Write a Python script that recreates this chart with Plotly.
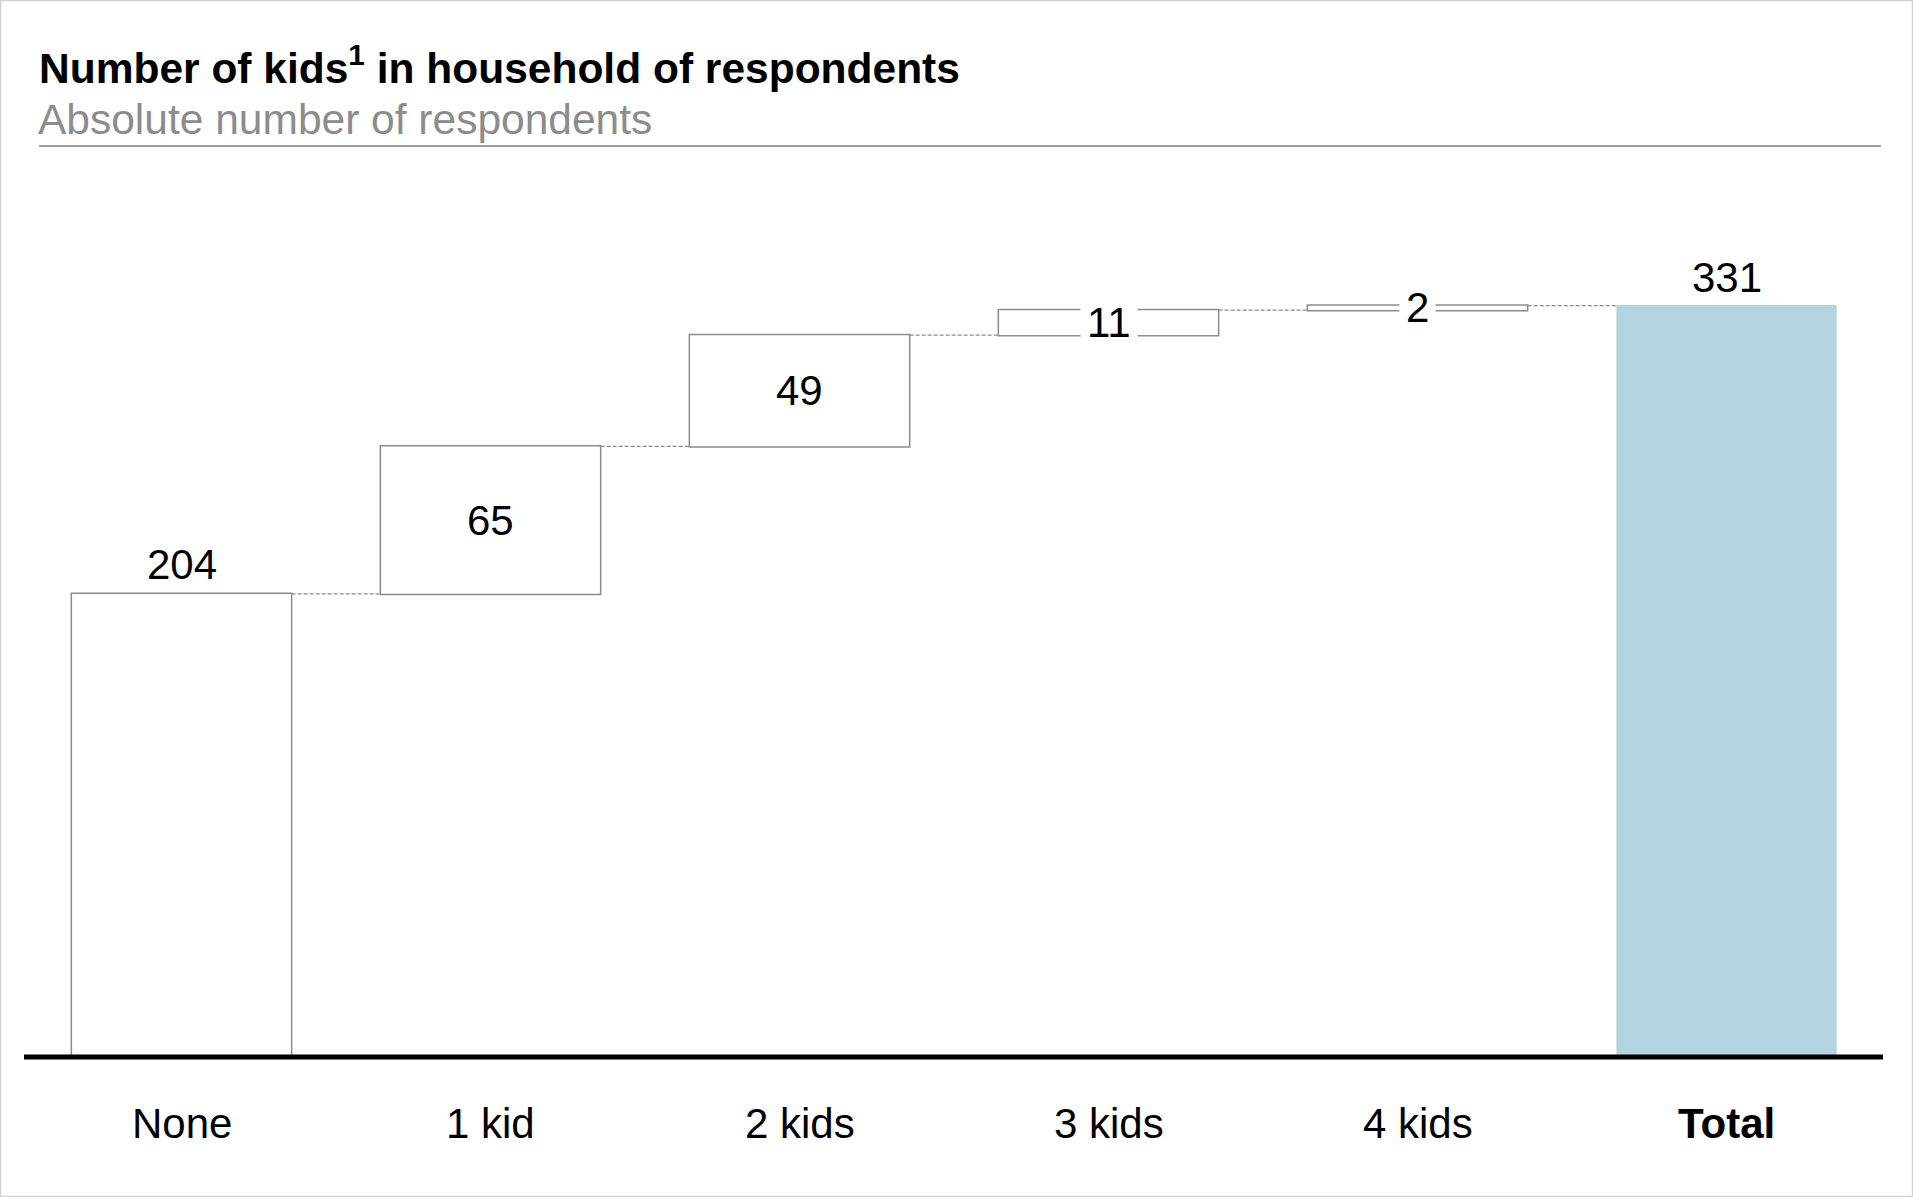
import plotly.graph_objects as go

# ---- data ----
categories = ["None", "1 kid", "2 kids", "3 kids", "4 kids", "Total"]
tick_labels = ["None", "1 kid", "2 kids", "3 kids", "4 kids", "<b>Total</b>"]
increments = [204, 65, 49, 11, 2]
measures = ["relative", "relative", "relative", "relative", "relative", "total"]

title_text = "<b>Number of kids<sup>1</sup> in household of respondents</b>"
subtitle_text = "Absolute number of respondents"

# ---- layout constants (pixels) ----
W, H = 1913, 1197
ML, MR, MT, MB = 27, 32, 180, 140
PW, PH = W - ML - MR, H - MT - MB
PX_PER_UNIT = 2.27
YMAX = PH / PX_PER_UNIT
FONT = "Liberation Sans, Arial, Helvetica, sans-serif"
LBL = 42

def py(px):  # pixel from top -> paper y
    return (H - MB - px) / PH

def pxx(px):  # pixel from left -> paper x
    return (px - ML) / PW

totals = []
s = 0
for v in increments:
    s += v
    totals.append(s)
grand_total = totals[-1]

fig = go.Figure(go.Waterfall(
    x=categories,
    y=increments + [0],
    measure=measures,
    width=0.713,
    increasing=dict(marker=dict(color="white", line=dict(color="#8c8c8c", width=1.5))),
    decreasing=dict(marker=dict(color="white", line=dict(color="#8c8c8c", width=1.5))),
    totals=dict(marker=dict(color="#b3d3de", line=dict(color="#b3d3de", width=0))),
    connector=dict(mode="between", line=dict(color="#8a8a8a", width=1.4, dash="4px,2px")),
    textposition="none",
    hoverinfo="skip",
    showlegend=False,
))

annotations = []
# value labels
for i, v in enumerate(increments):
    if i == 0:
        annotations.append(dict(x=categories[i], y=totals[i], yref="y", text=str(v),
                                showarrow=False, yanchor="middle", yshift=29,
                                font=dict(size=LBL, color="black", family=FONT)))
    else:
        mid = totals[i] - v / 2
        annotations.append(dict(x=categories[i], y=mid, yref="y", text=str(v),
                                showarrow=False, yanchor="middle",
                                bgcolor="white", borderpad=6,
                                font=dict(size=LBL, color="black", family=FONT)))
annotations.append(dict(x=categories[-1], y=grand_total, yref="y", text=str(grand_total),
                        showarrow=False, yanchor="middle", yshift=28,
                        font=dict(size=LBL, color="black", family=FONT)))
# category labels
for c, t in zip(categories, tick_labels):
    annotations.append(dict(x=c, y=py(1123.5), yref="paper", text=t, showarrow=False,
                            yanchor="middle", font=dict(size=LBL, color="black", family=FONT)))
# title / subtitle
annotations.append(dict(x=pxx(37), y=py(65), xref="paper", yref="paper", text=title_text,
                        showarrow=False, xanchor="left", yanchor="middle",
                        font=dict(size=42.5, color="black", family=FONT)))
annotations.append(dict(x=pxx(36), y=py(119), xref="paper", yref="paper", text=subtitle_text,
                        showarrow=False, xanchor="left", yanchor="middle",
                        font=dict(size=42.5, color="#8c8c8c", family=FONT)))

shapes = [
    # rule under header
    dict(type="line", xref="paper", yref="paper", x0=pxx(39), x1=pxx(1881),
         y0=py(146), y1=py(146), line=dict(color="#7f7f7f", width=1.5)),
    # baseline axis (at y = 0, the bottom of the plot area)
    dict(type="line", xref="paper", yref="paper", x0=pxx(24), x1=pxx(1883),
         y0=0, y1=0, line=dict(color="black", width=5)),
    # outer border
    dict(type="rect", xref="paper", yref="paper", x0=pxx(0.5), x1=pxx(W - 0.5),
         y0=py(H - 0.5), y1=py(0.5), line=dict(color="#d0d0d0", width=1.5)),
]

fig.update_layout(
    width=W, height=H,
    margin=dict(l=ML, r=MR, t=MT, b=MB, pad=0),
    paper_bgcolor="white", plot_bgcolor="white",
    font=dict(family=FONT),
    xaxis=dict(range=[-0.5, 5.5], showticklabels=False, showgrid=False, zeroline=False,
               showline=False, ticks=""),
    yaxis=dict(range=[0, YMAX], showticklabels=False, showgrid=False, zeroline=False,
               showline=False, ticks=""),
    annotations=annotations,
    shapes=shapes,
    showlegend=False,
)

fig.write_html("out.html")
